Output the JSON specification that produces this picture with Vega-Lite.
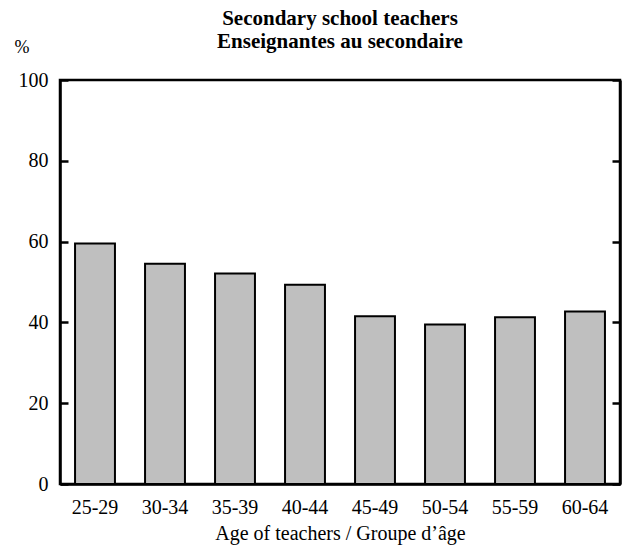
{
  "$schema": "https://vega.github.io/schema/vega-lite/v6.json",
  "autosize": "none",
  "width": 560,
  "height": 404,
  "padding": {"left": 60, "top": 80, "right": 6, "bottom": 62},
  "background": "white",
  "title": {
    "text": ["Secondary school teachers", "Enseignantes au secondaire"],
    "font": "Liberation Serif",
    "fontSize": 21,
    "fontWeight": "bold",
    "color": "black",
    "anchor": "middle",
    "offset": -14,
    "lineHeight": 23
  },
  "config": {
    "view": {"stroke": "black", "strokeWidth": 2.5},
    "axis": {
      "labelFont": "Liberation Serif",
      "titleFont": "Liberation Serif",
      "labelFontSize": 20,
      "titleFontSize": 20,
      "labelColor": "black",
      "titleColor": "black",
      "titleFontWeight": "normal",
      "grid": false,
      "domainColor": "black",
      "domainWidth": 2.5,
      "tickColor": "black",
      "tickWidth": 2.5
    }
  },
  "data": {
    "values": [
      {"age": "25-29", "pct": 59.5},
      {"age": "30-34", "pct": 54.5},
      {"age": "35-39", "pct": 52.1},
      {"age": "40-44", "pct": 49.3},
      {"age": "45-49", "pct": 41.5},
      {"age": "50-54", "pct": 39.5},
      {"age": "55-59", "pct": 41.3},
      {"age": "60-64", "pct": 42.7}
    ]
  },
  "layer": [
    {
      "mark": {"type": "bar", "fill": "#bfbfbf", "stroke": "black", "strokeWidth": 2},
      "encoding": {
        "x": {
          "field": "age",
          "type": "nominal",
          "sort": null,
          "scale": {"paddingInner": 0.43, "paddingOuter": 0.215},
          "axis": {
            "title": "Age of teachers / Groupe d’âge",
            "labelAngle": 0,
            "ticks": false,
            "labelPadding": 13,
            "titlePadding": 6
          }
        },
        "y": {
          "field": "pct",
          "type": "quantitative",
          "scale": {"domain": [0, 100], "nice": false},
          "axis": {
            "values": [0, 20, 40, 60, 80, 100],
            "tickSize": -8,
            "labelPadding": 20,
            "title": "%",
            "titleAngle": 0,
            "titleAlign": "left",
            "titleBaseline": "alphabetic",
            "titleX": -46,
            "titleY": -28,
            "titleFontSize": 18
          }
        }
      }
    },
    {
      "mark": {"type": "bar", "opacity": 0},
      "encoding": {
        "x": {"field": "age", "type": "nominal", "sort": null},
        "y": {
          "field": "pct",
          "type": "quantitative",
          "axis": {
            "orient": "right",
            "values": [0, 20, 40, 60, 80, 100],
            "tickSize": -8,
            "labels": false,
            "title": null
          }
        }
      }
    }
  ],
  "resolve": {"axis": {"y": "independent"}}
}
